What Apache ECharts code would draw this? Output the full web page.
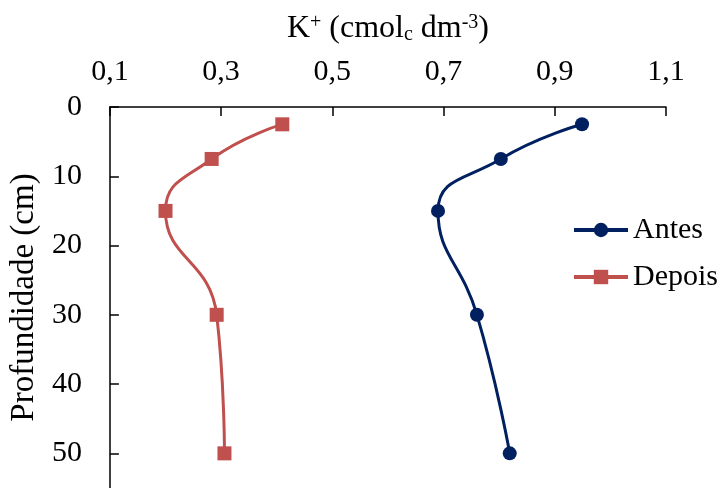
<html>
<head>
<meta charset="utf-8"/>
<title>K+ perfil</title>
<style type="text/css">
    body, #chart { margin: 0; padding: 0; border: 0; }
    #chart { width: 718px; height: 488px; }
</style>
<script type="text/javascript" src="https://cdn.jsdelivr.net/npm/echarts@6/dist/echarts.min.js"></script>
</head>
<body>
<div id="chart"></div>
<script type="text/javascript">
    // profundidade (cm) e K+ (cmolc dm-3)
    var depth = [2.5, 7.5, 15, 30, 50];
    var antes = [0.949, 0.803, 0.690, 0.760, 0.819];
    var depois = [0.410, 0.283, 0.200, 0.292, 0.306];
    var xTicks = [0.1, 0.3, 0.5, 0.7, 0.9, 1.1];
    var yTicks = [0, 10, 20, 30, 40, 50];

    function pairs(vals) {
        var out = [];
        for (var i = 0; i < vals.length; i++) {
            out.push([vals[i], depth[i]]);
        }
        return out;
    }

    var font = "'Liberation Serif', 'Times New Roman', serif";
    var myChart = echarts.init(document.getElementById('chart'));
    var option = {
        backgroundColor: '#ffffff',
        animation: false,
        textStyle: { fontFamily: font },
        grid: { left: 108, right: 52, top: 107, bottom: -5 },
        legend: {
            orient: 'vertical',
            left: 567,
            top: 210,
            itemWidth: 54,
            itemHeight: 18,
            itemGap: 17,
            lineStyle: { width: 4 },
            textStyle: { fontFamily: font, fontSize: 30, color: '#000' },
            data: ['Antes', 'Depois']
        },
        xAxis: {
            type: 'value',
            position: 'top',
            min: xTicks[0],
            max: xTicks[xTicks.length - 1],
            interval: 0.2,
            name: '{n|K}{s|+}{n| (cmol}{b|c}{n| dm}{s|-3}{n|)}',
            nameLocation: 'middle',
            nameGap: 62,
            nameTextStyle: {
                rich: {
                    n: { fontFamily: font, fontSize: 32, color: '#000' },
                    s: { fontFamily: font, fontSize: 20, color: '#000', verticalAlign: 'top', padding: [0, 0, 10, 0] },
                    b: { fontFamily: font, fontSize: 20, color: '#000', verticalAlign: 'bottom', padding: [12, 0, 0, 0] }
                }
            },
            axisLine: { show: true, lineStyle: { color: '#000', width: 1.5 } },
            axisTick: { show: true, inside: true, length: 9, lineStyle: { color: '#000', width: 1.5 } },
            axisLabel: {
                fontFamily: font, fontSize: 30, color: '#000', margin: 20,
                formatter: function (v) { return v.toFixed(1).replace('.', ','); }
            },
            splitLine: { show: false }
        },
        yAxis: {
            type: 'value',
            inverse: true,
            min: 0,
            max: 55,
            interval: 10,
            name: 'Profundidade (cm)',
            nameLocation: 'middle',
            nameGap: 67,
            nameTextStyle: { fontFamily: font, fontSize: 33, color: '#000' },
            axisLine: { show: true, lineStyle: { color: '#000', width: 1.5 } },
            axisTick: { show: true, inside: true, length: 9, customValues: yTicks, lineStyle: { color: '#000', width: 1.5 } },
            axisLabel: {
                fontFamily: font, fontSize: 30, color: '#000', margin: 28,
                customValues: yTicks
            },
            splitLine: { show: false }
        },
        series: [
            {
                name: 'Antes',
                type: 'line',
                data: pairs(antes),
                smooth: 0.5,
                symbol: 'circle',
                symbolSize: 14,
                itemStyle: { color: '#002060' },
                lineStyle: { color: '#002060', width: 3 }
            },
            {
                name: 'Depois',
                type: 'line',
                data: pairs(depois),
                smooth: 0.5,
                symbol: 'rect',
                symbolSize: 14,
                itemStyle: { color: '#C0504D' },
                lineStyle: { color: '#C0504D', width: 3 }
            }
        ]
    };
    myChart.setOption(option);
</script>
</body>
</html>
